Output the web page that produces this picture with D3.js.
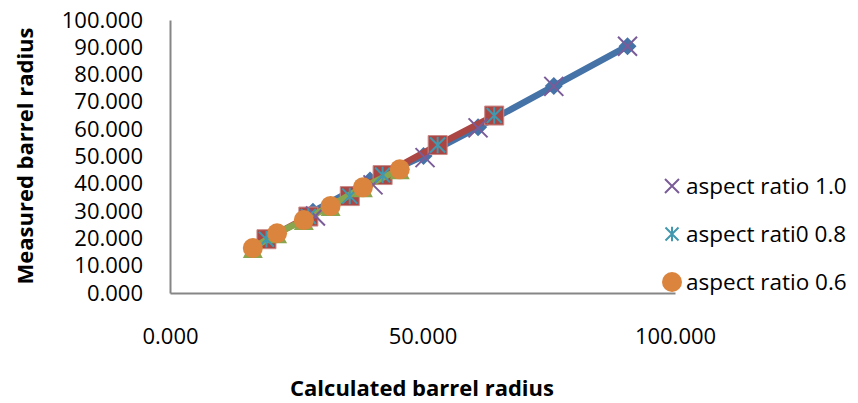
<!DOCTYPE html>
<html>
<head>
<meta charset="utf-8">
<script src="https://cdn.jsdelivr.net/npm/d3@7"></script>
<style>
  body { margin: 0; background: #fff; }
  svg { display: block; font-family: "Open Sans", sans-serif; }
</style>
</head>
<body>
<svg id="chart"></svg>
<script>
// Chart values (calculated vs measured barrel radius)
var lineNames = ["series 1", "series 2", "series 3"];
var markerNames = ["aspect ratio 1.0", "aspect rati0 0.8", "aspect ratio 0.6"];

// line series (blue diamonds, red squares, green triangles)
var calc1 = [28.3, 39.6, 50.2, 61.0, 76.0, 90.6];
var meas1 = [29.8, 41.2, 50.2, 60.7, 75.8, 90.4];
var calc2 = [19.1, 27.4, 35.6, 42.1, 53.0, 64.2];
var meas2 = [19.7, 28.0, 35.5, 43.2, 54.2, 65.0];
var calc3 = [16.4, 21.2, 26.5, 31.8, 38.2, 45.5];
var meas3 = [16.5, 21.9, 26.7, 31.9, 38.7, 45.3];

// marker series shown in the legend
var calc4 = [28.8, 40.2, 50.5, 61.0, 76.0, 90.6];
var meas4 = [28.2, 39.6, 49.6, 60.5, 75.7, 90.4];
var calc5 = calc2, meas5 = meas2;
var calc6 = calc3, meas6 = meas3;

var yTicks = [0, 10, 20, 30, 40, 50, 60, 70, 80, 90, 100];
var xTicks = [0, 50, 100];

// Initialize the SVG
var width = 858;
var height = 403;

var svg = d3.select("#chart")
    .attr("width", width)
    .attr("height", height);

svg.append("rect")
    .attr("width", width)
    .attr("height", height)
    .attr("fill", "#fff");

// scales
var xScale = d3.scaleLinear().domain([0, 100]).range([170, 675]);
var yScale = d3.scaleLinear().domain([0, 100]).range([293, 20]);

var fmt = d3.format(".3f");

// axes, Excel style: no tick marks, grey lines
var yAxis = d3.axisLeft(yScale)
    .tickValues(yTicks)
    .tickFormat(fmt)
    .tickSize(0)
    .tickPadding(27);

var xAxis = d3.axisBottom(xScale)
    .tickValues(xTicks)
    .tickFormat(fmt)
    .tickSize(0)
    .tickPadding(35);

var gy = svg.append("g")
    .attr("transform", "translate(" + xScale(0) + ",0)")
    .call(yAxis);

var gx = svg.append("g")
    .attr("transform", "translate(0," + yScale(0) + ")")
    .call(xAxis);

[gx, gy].forEach(function(g) {
  g.select(".domain").attr("stroke", "#868686").attr("stroke-width", 2);
  g.selectAll("text")
    .attr("fill", "#000")
    .style("font-size", "22px")
    .style("font-family", "'Open Sans', sans-serif");
});

// series drawing
var pts = function(cx, cy) { return cx.map(function(v, i) { return [v, cy[i]]; }); };

var line = d3.line()
    .x(function(d) { return xScale(d[0]); })
    .y(function(d) { return yScale(d[1]); });

function drawLine(data, color) {
  svg.append("path")
      .datum(data)
      .attr("fill", "none")
      .attr("stroke", color)
      .attr("stroke-width", 6.5)
      .attr("stroke-linejoin", "round")
      .attr("d", line);
}

function drawMarkers(data, symbol, size, fill, stroke, sw) {
  svg.append("g")
    .selectAll("path")
    .data(data)
    .enter()
    .append("path")
      .attr("transform", function(d) { return "translate(" + xScale(d[0]) + "," + yScale(d[1]) + ")"; })
      .attr("d", d3.symbol().type(symbol).size(size))
      .attr("fill", fill)
      .attr("stroke", stroke)
      .attr("stroke-width", sw);
}

// custom marker shapes
var diamondShape = {
  draw: function(ctx, size) {
    var r = Math.sqrt(size) / 2;
    ctx.moveTo(0, -r); ctx.lineTo(r, 0); ctx.lineTo(0, r); ctx.lineTo(-r, 0); ctx.closePath();
  }
};
var xShape = {
  draw: function(ctx, size) {
    var r = Math.sqrt(size) / 2;
    ctx.moveTo(-r, -r); ctx.lineTo(r, r);
    ctx.moveTo(r, -r); ctx.lineTo(-r, r);
  }
};
var starShape = {
  draw: function(ctx, size) {
    var r = Math.sqrt(size) / 2;
    ctx.moveTo(-r, -r); ctx.lineTo(r, r);
    ctx.moveTo(r, -r); ctx.lineTo(-r, r);
    ctx.moveTo(0, -r * 1.1); ctx.lineTo(0, r * 1.1);
  }
};
var triShape = {
  draw: function(ctx, size) {
    var r = Math.sqrt(size) / 2;
    ctx.moveTo(0, -r * 0.8); ctx.lineTo(r, r * 1.0); ctx.lineTo(-r, r * 1.0); ctx.closePath();
  }
};

var blue = "#4572A7", red = "#AA4643", green = "#89A54E",
    purple = "#71588F", teal = "#4198AF", orange = "#DB843D";

drawLine(pts(calc1, meas1), blue);
drawMarkers(pts(calc1, meas1), diamondShape, 18 * 18, blue, "none", 0);
drawLine(pts(calc2, meas2), red);
drawMarkers(pts(calc2, meas2), d3.symbolSquare, 19 * 19, red, "#c98a88", 1);
drawLine(pts(calc3, meas3), green);
drawMarkers(pts(calc3, meas3), triShape, 20 * 20, green, "none", 0);

drawMarkers(pts(calc4, meas4), xShape, 19 * 19, "none", "#7A5C99", 2);
drawMarkers(pts(calc5, meas5), starShape, 15 * 15, "none", teal, 2);
drawMarkers(pts(calc6, meas6), d3.symbolCircle, Math.PI * 10 * 10, orange, "none", 0);

// legend (only marker series)
var legendY = [186, 234, 282];
var legendSym = [
  { s: xShape, size: 14 * 14, fill: "none", stroke: "#7A5C99", sw: 2 },
  { s: starShape, size: 13 * 13, fill: "none", stroke: teal, sw: 2 },
  { s: d3.symbolCircle, size: Math.PI * 10 * 10, fill: orange, stroke: "none", sw: 0 }
];

var legend = svg.append("g")
  .selectAll("g")
  .data(markerNames)
  .enter()
  .append("g")
    .attr("transform", function(d, i) { return "translate(672," + legendY[i] + ")"; });

legend.append("path")
    .attr("d", function(d, i) { return d3.symbol().type(legendSym[i].s).size(legendSym[i].size)(); })
    .attr("fill", function(d, i) { return legendSym[i].fill; })
    .attr("stroke", function(d, i) { return legendSym[i].stroke; })
    .attr("stroke-width", function(d, i) { return legendSym[i].sw; });

legend.append("text")
    .attr("x", 14)
    .attr("dy", "0.35em")
    .style("font-size", "22.5px")
    .text(function(d) { return d; });

// axis titles
svg.append("text")
    .attr("x", 422)
    .attr("y", 396)
    .style("text-anchor", "middle")
    .style("font-size", "22px")
    .style("font-weight", "bold")
    .text("Calculated barrel radius");

svg.append("text")
    .attr("transform", "rotate(-90)")
    .attr("x", -156)
    .attr("y", 33)
    .style("text-anchor", "middle")
    .style("font-size", "22px")
    .style("font-weight", "bold")
    .text("Measured barrel radius");
</script>
</body>
</html>
